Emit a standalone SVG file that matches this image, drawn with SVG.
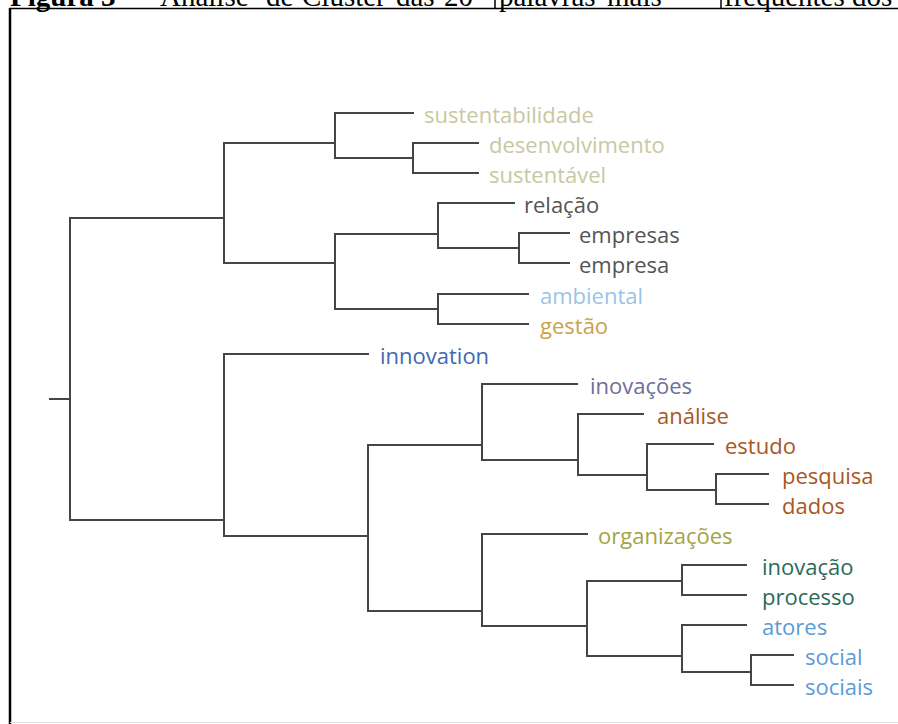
<svg xmlns="http://www.w3.org/2000/svg" width="898" height="724" viewBox="0 0 898 724">
<style>
.t{font-family:"Liberation Serif","Times New Roman",serif;font-size:29px;fill:#000}
.lbl{font-family:"Open Sans","Noto Sans",sans-serif;font-size:22px}
.ln{stroke:#454545;stroke-width:2;fill:none;stroke-linecap:square}
.c1{fill:#c8c8a2}.c2{fill:#555555}.c3{fill:#9cc3e8}.c4{fill:#c9a24a}.c5{fill:#4169b0}
.c6{fill:#6e6e9a}.c7{fill:#a8571f}.c8{fill:#a3a346}.c9{fill:#2b6a5b}.c10{fill:#5b9bd5}
</style>
<rect x="0" y="0" width="898" height="724" fill="#ffffff"/>
<g id="title">
<text class="t" y="6"><tspan x="10" font-weight="bold">Figura 3</tspan><tspan x="137">–</tspan><tspan x="160">Análise</tspan><tspan x="266">de</tspan><tspan x="302">Cluster</tspan><tspan x="396">das</tspan><tspan x="444">20</tspan><tspan x="499">palavras</tspan><tspan x="607">mais</tspan><tspan x="724">frequentes dos artigos</tspan></text>
<line x1="495" y1="0" x2="495" y2="8" stroke="#000" stroke-width="1.5"/>
<line x1="721" y1="0" x2="721" y2="8" stroke="#000" stroke-width="1.5"/>
</g>
<g id="frame">
<line x1="9" y1="8.5" x2="898" y2="8.5" stroke="#000" stroke-width="1.5"/>
<line x1="10" y1="8" x2="10" y2="724" stroke="#000" stroke-width="2.5"/>
<line x1="10" y1="722.5" x2="898" y2="722.5" stroke="#e2e2e2" stroke-width="1"/>
</g>
<g id="connectors" class="ln">
<path d="M50 399H70M70 218V520M70 218H224M70 520H224"/>
<path d="M224 143V263M224 143H335M224 263H335"/>
<path d="M335 113V158M335 113H413M335 158H413"/>
<path d="M413 143V173M413 143H478M413 173H478"/>
<path d="M335 234V309M335 234H438M335 309H438"/>
<path d="M438 203V248M438 203H514M438 248H519"/>
<path d="M519 233V263M519 233H569M519 263H569"/>
<path d="M438 294V324M438 294H528M438 324H528"/>
<path d="M224 354V536M224 354H368M224 536H368"/>
<path d="M368 445V611M368 445H482M368 611H482"/>
<path d="M482 384V460M482 384H577M482 460H578"/>
<path d="M578 414V475M578 414H643M578 475H647"/>
<path d="M647 444V490M647 444H713M647 490H716"/>
<path d="M716 474V504M716 474H768M716 504H768"/>
<path d="M482 534V626M482 534H587M482 626H587"/>
<path d="M587 581V656M587 581H682M587 656H682"/>
<path d="M682 565V595M682 565H746M682 595H746"/>
<path d="M682 625V672M682 625H746M682 672H751"/>
<path d="M751 655V685M751 655H793M751 685H793"/>
</g>
<g id="sustentabilidade"><text class="lbl c1" x="424" y="123">sustentabilidade</text></g>
<g id="desenvolvimento"><text class="lbl c1" x="489" y="153">desenvolvimento</text></g>
<g id="sustentavel"><text class="lbl c1" x="489" y="183">sustentável</text></g>
<g id="relacao"><text class="lbl c2" x="524" y="213">relação</text></g>
<g id="empresas"><text class="lbl c2" x="579" y="243">empresas</text></g>
<g id="empresa"><text class="lbl c2" x="579" y="273">empresa</text></g>
<g id="ambiental"><text class="lbl c3" x="540" y="304">ambiental</text></g>
<g id="gestao"><text class="lbl c4" x="540" y="334">gestão</text></g>
<g id="innovation"><text class="lbl c5" x="380" y="364">innovation</text></g>
<g id="inovacoes"><text class="lbl c6" x="590" y="394">inovações</text></g>
<g id="analise"><text class="lbl c7" x="657" y="424">análise</text></g>
<g id="estudo"><text class="lbl c7" x="725" y="454">estudo</text></g>
<g id="pesquisa"><text class="lbl c7" x="782" y="484">pesquisa</text></g>
<g id="dados"><text class="lbl c7" x="782" y="514">dados</text></g>
<g id="organizacoes"><text class="lbl c8" x="598" y="544">organizações</text></g>
<g id="inovacao"><text class="lbl c9" x="762" y="575">inovação</text></g>
<g id="processo"><text class="lbl c9" x="762" y="605">processo</text></g>
<g id="atores"><text class="lbl c10" x="762" y="635">atores</text></g>
<g id="social"><text class="lbl c10" x="805" y="665">social</text></g>
<g id="sociais"><text class="lbl c10" x="805" y="695">sociais</text></g>
</svg>
